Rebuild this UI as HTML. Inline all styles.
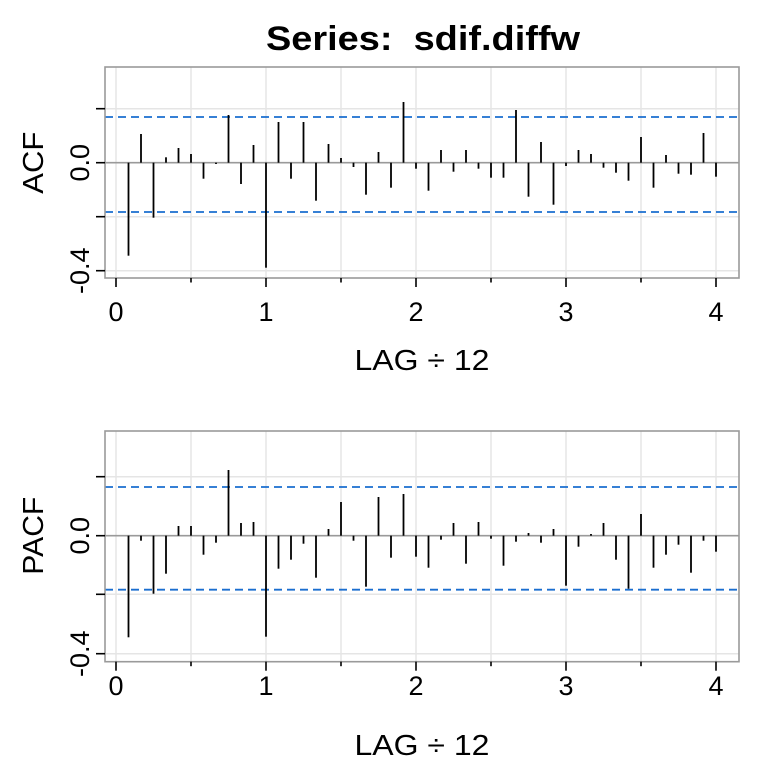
<!DOCTYPE html>
<html><head><meta charset="utf-8"><style>
html,body{margin:0;padding:0;background:#fff}
svg{display:block}
text{font-family:"Liberation Sans",sans-serif;fill:#000}
</style></head><body>
<svg width="768" height="768" viewBox="0 0 768 768" xmlns="http://www.w3.org/2000/svg">
<text x="423" y="50" font-size="34" font-weight="bold" text-anchor="middle" xml:space="preserve" textLength="314" lengthAdjust="spacingAndGlyphs">Series:  sdif.diffw</text>
<g id="p1"></g><g id="p2"></g>
</svg>
<script>
var NS="http://www.w3.org/2000/svg";
function el(p,t,a,txt){var e=document.createElementNS(NS,t);for(var k in a)e.setAttribute(k,a[k]);if(txt)e.textContent=txt;p.appendChild(e);return e;}
function panel(id,top,bot,zero,grids,dash,tips,ylab,ylabLen,tickLab,xlabY,titleY){
 var g=document.getElementById(id);
 el(g,'rect',{x:105,y:top,width:634,height:bot-top,fill:'#fff'});
 for(var i=0;i<=8;i++){var x=116+75*i;el(g,'line',{x1:x,y1:top,x2:x,y2:bot,stroke:'#e5e5e5','stroke-width':1.5});}
 grids.forEach(function(y){el(g,'line',{x1:105,y1:y,x2:739,y2:y,stroke:'#e5e5e5','stroke-width':1.5});});
 dash.forEach(function(y){el(g,'line',{x1:105,y1:y,x2:739,y2:y,stroke:'#1a6ecf','stroke-width':1.8,'stroke-dasharray':'8,5'});});
 el(g,'line',{x1:105,y1:zero,x2:739,y2:zero,stroke:'#9a9a9a','stroke-width':1.6});
 tips.forEach(function(t,i){var x=116+12.5*(i+1);el(g,'line',{x1:x,y1:zero,x2:x,y2:t,stroke:'#000','stroke-width':1.8});});
 el(g,'rect',{x:105,y:top,width:634,height:bot-top,fill:'none',stroke:'#9a9a9a','stroke-width':1.6});
 for(var i=0;i<=8;i++){var x=116+75*i;el(g,'line',{x1:x,y1:bot,x2:x,y2:bot+(i%2?4.5:9),stroke:'#000','stroke-width':1.6});}
 for(var i=0;i<=4;i++){el(g,'text',{x:116+150*i,y:xlabY,'font-size':27,'text-anchor':'middle'},String(i));}
 grids.forEach(function(y){el(g,'line',{x1:96,y1:y,x2:105,y2:y,stroke:'#000','stroke-width':1.6});});
 tickLab.forEach(function(p){el(g,'text',{x:0,y:0,'font-size':27,'text-anchor':'middle',transform:'translate(89,'+p[0]+') rotate(-90)'},p[1]);});
 el(g,'text',{x:0,y:0,'font-size':29,'text-anchor':'middle',textLength:ylabLen,lengthAdjust:'spacingAndGlyphs',transform:'translate(43,'+zero+') rotate(-90)'},ylab);
 el(g,'text',{x:422,y:titleY,'font-size':29,'text-anchor':'middle',textLength:135,lengthAdjust:'spacingAndGlyphs'},'LAG ÷ 12');
}
panel('p1',67,278,162.7,[108.7,162.7,216.7,270.7],[117,212],
[255.7,134,217.7,157.3,148,154,178.7,164,115,184,145,267.7,122,178.7,122,200.7,144,158,167,194.7,152,187.7,102,168.7,190.7,150,171.7,150,168.7,177.7,177.7,110,196.7,142,204.7,166,150,154,167.7,172.7,180.7,137,187.7,155,173.7,174.7,133,176.7],
'ACF',62,[[162.7,'0.0'],[270.7,'-0.4']],321,370);
panel('p2',431,661.7,535.7,[476.7,535.7,594.3,653.7],[487,589.7],
[637.3,540.7,593.7,573.7,526,526,554.7,542.7,470,523,522,636.7,568.7,559.7,543.7,577.7,529,502,540.7,586.7,497,557.7,494,556.7,567.7,539.7,523,563.7,522,538.7,565.7,541.7,533,542.7,529,585.7,546.7,534,523,559.7,588.7,514,567.7,554.7,544.7,572.7,540.7,551.7],
'PACF',78,[[535.7,'0.0'],[653.7,'-0.4']],695,755);
</script>
</body></html>
